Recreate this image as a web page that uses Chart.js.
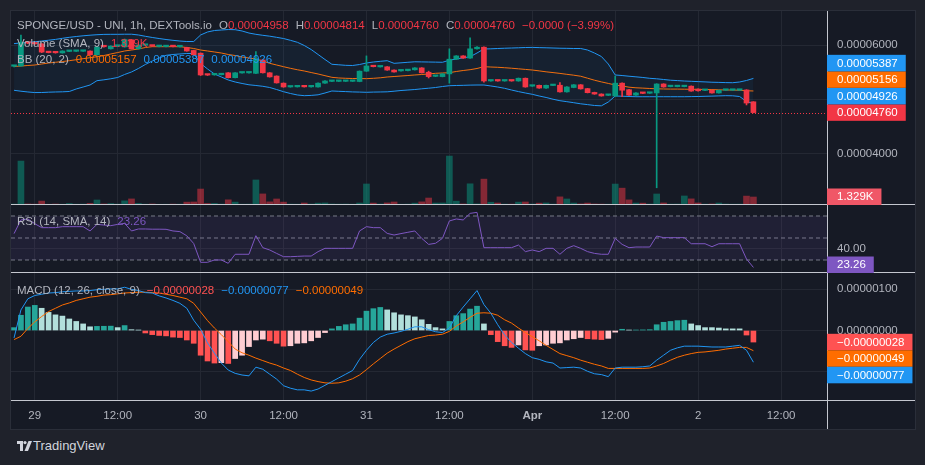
<!DOCTYPE html>
<html>
<head>
<meta charset="utf-8">
<title>SPONGE/USD 1h</title>
<script src="https://cdn.jsdelivr.net/npm/chart.js@4.4.1/dist/chart.umd.min.js"></script>
<style>
  body { margin: 0; width: 925px; height: 465px; background: #1f222b; overflow: hidden; font-family: "Liberation Sans", Arial, sans-serif; }
  #frame { position: absolute; left: 10px; top: 10px; width: 906px; height: 420px; box-sizing: border-box; border: 1px solid #2a2e39; background: #161a25; }
  canvas { position: absolute; left: 11px; }
  .lg { position: absolute; left: 17px; font-size: 11.5px; line-height: 14px; color: #b2b5be; white-space: nowrap; z-index: 2; }
  .lg span { margin-left: 7px; }
  .lg em { font-style: normal; }
  .r { color: #f23645; }
  .o { color: #ff6d00; }
  .b { color: #2196f3; }
  .p { color: #7e57c2; }
  .m { color: #ff5252; }
  #tv { position: absolute; left: 33px; top: 438px; font-size: 13px; line-height: 16px; color: #d1d4dc; }
</style>
</head>
<body>
<div id="frame"></div>
<canvas id="pricePane" width="904" height="194" style="top:11px"></canvas>
<canvas id="rsiPane" width="904" height="68" style="top:205px"></canvas>
<canvas id="macdPane" width="904" height="156" style="top:273px"></canvas>

<div class="lg" style="top:18px">SPONGE/USD - UNI, 1h, DEXTools.io<span>O<em class="r">0.00004958</em></span><span>H<em class="r">0.00004814</em></span><span>L<em class="r">0.00004760</em></span><span>C<em class="r">0.00004760</em></span><span class="r">&minus;0.0000 (&minus;3.99%)</span></div>
<div class="lg" style="top:36px">Volume (SMA, 9)<span class="r">1.329K</span></div>
<div class="lg" style="top:52px">BB (20, 2)<span class="o">0.00005157</span><span class="b">0.00005387</span><span class="b">0.00004926</span></div>
<div class="lg" style="top:214px">RSI (14, SMA, 14)<span class="p">23.26</span></div>
<div class="lg" style="top:283px">MACD (12, 26, close, 9)<span class="m">&minus;0.00000028</span><span class="b">&minus;0.00000077</span><span class="o">&minus;0.00000049</span></div>

<svg style="position:absolute;left:17px;top:441px" width="15" height="10" viewBox="0 0 15 10">
  <path fill="#d1d4dc" d="M0 0h6v10H3V3H0z"/><circle cx="8" cy="1.6" r="1.6" fill="#d1d4dc"/><path fill="#d1d4dc" d="M11.5 0H15l-4 10H7.5z"/>
</svg>
<div id="tv">TradingView</div>

<script>
// all prices and indicator values are in units of 1e-8 USD
// hours are counted from 1 Apr 00:00, one candle per hour
let firstHour = -75;

let opens = [5610,5615,6050,6030,6020,5870,5862,5855,5882,5884,
  5885,5889,5820,5972,5930,5978,5965,6095,5930,5995,
  5985,5972,5970,5976,5968,5955,5900,5850,5455,5452,
  5455,5490,5400,5487,5488,5480,5725,5490,5430,5300,
  5230,5232,5238,5232,5230,5300,5332,5332,5333,5333,
  5330,5520,5612,5598,5600,5540,5525,5530,5545,5580,
  5500,5425,5420,5470,5740,5800,5760,5930,5960,5340,
  5345,5340,5345,5340,5390,5245,5260,5210,5256,5262,
  5140,5220,5270,5200,5130,5100,5076,5065,5300,5180,
  5080,5118,5115,5120,5285,5236,5236,5236,5245,5190,
  5167,5170,5120,5170,5170,5170,5175,4958];
let highs = [5625,6180,6060,6040,6030,5875,5865,5895,5890,5890,
  5890,5895,5970,5978,5985,5985,6110,6100,6005,6000,
  5990,5978,5980,5980,5978,5960,5905,5855,5460,5465,
  5465,5495,5495,5495,5495,5880,5730,5495,5435,5305,
  5240,5240,5242,5240,5305,5345,5340,5340,5340,5340,
  5525,5800,5618,5608,5605,5545,5535,5550,5585,5585,
  5520,5435,5475,5930,5805,5805,6130,5970,5965,5350,
  5350,5350,5350,5395,5395,5255,5265,5265,5265,5310,
  5235,5275,5275,5205,5135,5105,5085,5430,5305,5185,
  5125,5122,5125,5290,5290,5245,5245,5245,5250,5195,
  5175,5175,5175,5180,5180,5180,5180,4960];
let lows = [5600,5610,6025,6015,5860,5855,5850,5850,5878,5880,
  5880,5815,5815,5960,5925,5970,5960,5925,5925,5985,
  5975,5965,5965,5965,5962,5885,5815,5440,5440,5445,
  5450,5395,5395,5482,5482,5475,5485,5410,5300,5225,
  5225,5228,5228,5228,5225,5295,5328,5328,5330,5330,
  5325,5515,5598,5595,5535,5500,5520,5525,5540,5485,
  5395,5420,5415,5300,5735,5755,5755,5925,5320,5335,
  5335,5335,5335,5335,5225,5240,5205,5205,5252,5135,
  5135,5215,5190,5120,5095,5060,5072,5060,5050,5075,
  5075,5108,5110,3380,5225,5232,5232,5232,5150,5155,
  5162,5115,5115,5167,5167,5167,4900,4755];
let closes = [5620,6050,6035,6020,5870,5860,5857,5890,5886,5888,
  5889,5820,5962,5968,5980,5982,6100,5930,6000,5998,
  5980,5975,5976,5970,5974,5890,5820,5450,5448,5460,
  5462,5400,5490,5492,5493,5740,5490,5415,5305,5230,
  5236,5237,5232,5237,5300,5340,5337,5337,5338,5338,
  5520,5615,5602,5604,5540,5505,5530,5545,5580,5490,
  5420,5432,5470,5740,5800,5760,5930,5960,5340,5346,
  5340,5346,5340,5390,5230,5250,5210,5260,5262,5140,
  5230,5270,5195,5125,5100,5065,5082,5300,5170,5080,
  5120,5112,5121,5285,5230,5242,5242,5242,5155,5160,
  5172,5120,5170,5176,5176,5176,4935,4760];
let volumes = [150,7300,170,140,650,120,160,130,250,140,
  150,260,830,170,240,150,690,1010,260,140,
  170,120,130,150,140,480,500,2650,250,260,
  150,860,480,140,150,4160,1840,520,1000,480,
  150,140,330,160,310,340,170,150,160,140,
  330,3490,320,160,350,500,130,150,310,520,
  1160,330,340,8130,640,170,3520,180,4300,460,
  330,150,140,480,500,160,310,340,150,1350,
  1000,330,180,320,170,150,140,3480,2800,850,
  330,310,160,1830,340,150,160,1500,1020,340,
  150,170,330,160,140,150,1480,1329];

let bbUpper = [6026,6037,6048,6059,6073,6088,6103,6123,6141,6156,
  6169,6180,6189,6195,6196,6196,6198,6198,6184,6160,
  6138,6119,6101,6086,6073,6064,6064,6184,6239,6266,
  6275,6284,6281,6257,6220,6196,6178,6162,6141,6119,
  6086,6050,5991,5917,5826,5734,5646,5637,5627,5624,
  5642,5670,5688,5701,5712,5664,5673,5683,5692,5690,
  5688,5686,5683,5721,5743,5765,5785,5853,5927,5930,
  5936,5941,5945,5949,5954,5956,5952,5949,5945,5941,
  5939,5936,5936,5908,5853,5789,5651,5450,5440,5427,
  5416,5404,5389,5380,5367,5354,5347,5339,5334,5328,
  5323,5317,5314,5310,5308,5321,5349,5387];
let bbBasis = [5605,5614,5624,5633,5651,5670,5683,5697,5712,5730,
  5749,5767,5785,5807,5835,5862,5890,5908,5927,5954,
  5969,5969,5969,5969,5969,5954,5936,5908,5890,5872,
  5853,5826,5807,5780,5761,5743,5706,5664,5633,5602,
  5572,5546,5523,5495,5468,5437,5407,5395,5389,5385,
  5385,5382,5389,5398,5413,5422,5431,5440,5450,5459,
  5468,5481,5486,5492,5514,5532,5547,5569,5602,5596,
  5591,5583,5574,5563,5552,5541,5525,5508,5494,5479,
  5462,5446,5427,5391,5354,5323,5295,5266,5248,5226,
  5215,5209,5202,5196,5193,5191,5191,5189,5187,5187,
  5183,5182,5178,5174,5174,5169,5160,5156.4];
let bbLower = [5169,5152,5138,5127,5128,5134,5138,5141,5147,5193,
  5229,5266,5345,5361,5380,5404,5459,5505,5569,5642,
  5706,5761,5811,5826,5835,5844,5844,5661,5560,5468,
  5413,5358,5321,5294,5270,5257,5242,5220,5183,5143,
  5110,5083,5070,5075,5086,5119,5156,5150,5145,5139,
  5136,5132,5136,5138,5141,5152,5165,5174,5183,5196,
  5207,5220,5238,5253,5257,5260,5264,5266,5266,5248,
  5229,5205,5174,5145,5119,5095,5064,5037,5005,4978,
  4960,4941,4921,4906,4890,4884,4954,5064,5060,5055,
  5051,5051,5051,5051,5051,5051,5051,5051,5053,5055,
  5059,5062,5066,5070,5068,5055,4963,4926];

let rsi = [54,66.4,67.3,63,59.4,59.4,59.4,60.3,60.3,60.3,
  60.3,56.4,62.4,61.8,61.2,62.4,63.3,56.4,58.2,58.2,
  58,58,57.9,56.4,55.8,52,45,27.9,27.9,30,
  30,27,35.2,35.2,35.2,52.1,41.2,39.1,36,33,
  33,33.3,33.6,33.6,37.6,40.6,40.6,40.6,40.6,40.6,
  56.4,60.3,59.4,59.4,54.2,52.7,54,55.2,56.4,49.7,
  44.2,45.2,49.7,65.5,67.3,66.4,72.4,73.3,41.2,41.2,
  41.2,41.2,41.2,43.6,37.6,39.1,37.6,40.6,40.6,35.2,
  40.6,43,40.6,37.6,36,35.2,35.2,49.7,44.2,41.2,
  41.8,41.8,41.8,51.8,50.3,50.3,50.3,50.3,44.8,44.8,
  44.8,42.1,44.8,44.8,44.8,44.8,30.9,23.26];
let rsiLevels = [70, 50, 30];

let macdLine = [-18,50,77,85,88,91,92,94,95,96,
  96,97,99,100,101,101,105,100,97,92,
  91,84,79,73,66,54,25,3,-30,-55,
  -79,-96,-104,-108,-110,-89,-94,-106,-118,-134,
  -140,-144,-144,-147,-142,-133,-124,-115,-106,-97,
  -70,-48,-29,-16,-9,-6,-2,3,9,9,
  2,-3,-5,6,36,57,77,97,63,42,
  14,-11,-29,-43,-56,-66,-70,-76,-79,-91,
  -90,-89,-91,-99,-105,-107,-112,-91,-89,-89,
  -89,-88,-86,-72,-60,-48,-42,-38,-38,-38,
  -39,-40,-40,-40,-38,-36,-48,-77];
let signalLine = [-22,-14,5,21,34,46,54,62,67,73,
  77,81,83,86,87,89,91,92,93,93,
  92,91,88,85,81,77,66,45,24,6,
  -10,-27,-45,-54,-60,-67,-73,-79,-84,-91,
  -97,-106,-114,-120,-124,-127,-128,-127,-123,-117,
  -108,-95,-81,-68,-55,-45,-36,-27,-20,-16,
  -12,-11,-9,-2,11,21,32,42,43,42,
  37,26,18,6,-5,-15,-25,-36,-46,-56,
  -61,-66,-72,-77,-82,-86,-92,-92,-92,-92,
  -92,-92,-91,-86,-80,-72,-65,-60,-56,-53,
  -52,-50,-48,-45,-43,-41,-41,-49];
let histogram = [7,37,57,61,54,44,38,35,28,22,
  16,9,10,10.3,10.6,7,12,2,1,-6,
  -10,-12,-13,-16,-17,-23,-31,-60,-74,-79,
  -78,-80,-68,-60,-39,-23,-21,-25,-31,-38,
  -37,-31,-30,-25,-17,-5,4,10,14,16,
  30,47,53,56,50,43,38,36,33,26,
  15,7,4,22,36,41,52,59,16,-10,
  -27,-37,-41,-35,-47,-48,-37,-35,-31,-30,
  -23,-20,-17,-20,-21,-22,-19,-4,3,1,
  1.2,1.5,2,14,20,22,24,25,16,12,
  7,7,6,4,4,4,-11,-28];

let tickHours = [-72, -60, -48, -36, -24, -12, 0, 12, 24, 36];
let tickLabels = ['29', '12:00', '30', '12:00', '31', '12:00', 'Apr', '12:00', '2', '12:00'];
let priceTicks = [4000, 5000, 6000];
let rsiTicks = [40];
let macdTicks = [-100, 0, 100];

const FONT = '"Liberation Sans", Arial, sans-serif';
const TXT = '#b2b5be';
const GRID = '#242833';
const SEP = '#c4c7cf';
const GREEN = '#089981', RED = '#f23645', BLUE = '#2196f3', ORANGE = '#ff6d00', PURPLE = '#7e57c2';
const X_MIN = -75.44, X_MAX = 42.65;

Chart.defaults.font.family = FONT;
Chart.defaults.font.size = 11.5;
Chart.defaults.color = TXT;

let hours = opens.map((_, i) => firstHour + i);
let last = closes.length - 1;
let up = closes.map((c, i) => c >= opens[i]);

function fmt(v) {
  let s = Math.abs(v / 1e8).toFixed(8);
  return (v < 0 ? '\u2212' : '') + s;
}

function pts(arr) {
  return hours.map((x, i) => ({ x: x, y: arr[i] }));
}

function xAxis(showLabels) {
  return {
    type: 'linear', min: X_MIN, max: X_MAX, offset: false,
    afterBuildTicks: s => { s.ticks = tickHours.map(v => ({ value: v })); },
    afterFit: s => { s.height = showLabels ? 28 : 0; s.paddingLeft = 0; s.paddingRight = 0; },
    grid: { color: GRID, drawTicks: false, offset: false },
    border: { display: false },
    ticks: {
      display: showLabels, padding: 8, color: TXT, maxRotation: 0, autoSkip: false,
      font: c => ({ family: FONT, size: 11.5, weight: c.tick && c.tick.value === 0 ? 'bold' : 'normal' }),
      callback: (v, i) => tickLabels[i]
    }
  };
}

function yAxis(min, max, tickValues, format) {
  return {
    position: 'right', min: min, max: max,
    // fixed axis width; labels sit inside the pane so no extra vertical room is needed
    afterFit: s => { s.width = 88; s.paddingTop = 0; s.paddingBottom = 0; },
    afterBuildTicks: s => { s.ticks = tickValues.map(v => ({ value: v })); },
    grid: { color: GRID, drawTicks: false },
    border: { display: false },
    ticks: { color: TXT, padding: 10, font: { family: FONT, size: 11.5 }, callback: format }
  };
}

function baseOptions(scales) {
  return {
    responsive: false, animation: false, events: [], devicePixelRatio: 1,
    layout: { padding: 0, autoPadding: false },
    plugins: { legend: { display: false }, tooltip: { enabled: false } },
    scales: scales
  };
}

// pane separators and the price-axis border
const paneLines = {
  id: 'paneLines',
  afterDraw(chart) {
    const { ctx, chartArea: a } = chart;
    const y = Math.round(a.bottom) - 0.5, x = Math.round(a.right) + 0.5;
    ctx.save();
    ctx.strokeStyle = SEP;
    ctx.lineWidth = 1;
    ctx.beginPath();
    ctx.moveTo(0, y); ctx.lineTo(chart.width, y);
    ctx.moveTo(x, 0); ctx.lineTo(x, chart.height);
    ctx.stroke();
    ctx.restore();
  }
};

// coloured value labels on the right axis, pushed apart so they don't overlap
function axisLabels(groups) {
  return {
    id: 'axisLabels',
    afterDraw(chart) {
      const { ctx, chartArea: a } = chart;
      const H = 16.5;
      ctx.save();
      ctx.font = '11.5px ' + FONT;
      ctx.textBaseline = 'middle';
      groups.forEach(g => {
        const scale = chart.scales[g.axis];
        const items = g.items.map(it => Object.assign({ y: scale.getPixelForValue(it.value) }, it));
        items.sort((p, q) => g.dir === 'up' ? q.y - p.y : p.y - q.y);
        let prev = null;
        items.forEach(it => {
          let y = it.y;
          if (prev !== null) y = g.dir === 'up' ? Math.min(y, prev - H) : Math.max(y, prev + H);
          y = Math.min(Math.max(y, a.top + H / 2), a.bottom - H / 2);
          prev = y;
          const w = ctx.measureText(it.text).width + 18;
          ctx.fillStyle = it.color;
          ctx.fillRect(a.right, y - H / 2, w, H);
          ctx.fillStyle = '#ffffff';
          ctx.fillText(it.text, a.right + 10, y + 0.5);
        });
      });
      ctx.restore();
    }
  };
}

const lastPriceLine = {
  id: 'lastPriceLine',
  beforeDatasetsDraw(chart) {
    const { ctx, chartArea: a } = chart;
    const y = Math.round(chart.scales.y.getPixelForValue(closes[last])) + 0.5;
    ctx.save();
    ctx.strokeStyle = RED;
    ctx.lineWidth = 1;
    ctx.setLineDash([1, 2]);
    ctx.beginPath();
    ctx.moveTo(a.left, y); ctx.lineTo(a.right, y);
    ctx.stroke();
    ctx.restore();
  }
};

// ---------- price pane ----------
new Chart(document.getElementById('pricePane'), {
  type: 'bar',
  data: {
    datasets: [
      {
        label: 'body', data: hours.map((x, i) => ({ x: x, y: [opens[i], closes[i]] })),
        backgroundColor: up.map(u => u ? GREEN : RED), barThickness: 5, minBarLength: 1.5,
        grouped: false, order: 1, yAxisID: 'y'
      },
      {
        label: 'wick', data: hours.map((x, i) => ({ x: x, y: [lows[i], highs[i]] })),
        backgroundColor: up.map(u => u ? GREEN : RED), barThickness: 1,
        grouped: false, order: 2, yAxisID: 'y'
      },
      {
        type: 'line', label: 'BB upper', data: pts(bbUpper), borderColor: BLUE, borderWidth: 1,
        pointRadius: 0, tension: 0, fill: '+2', backgroundColor: 'rgba(33,150,243,0.06)', order: 3, yAxisID: 'y'
      },
      {
        type: 'line', label: 'BB basis', data: pts(bbBasis), borderColor: ORANGE, borderWidth: 1,
        pointRadius: 0, tension: 0, fill: false, order: 3, yAxisID: 'y'
      },
      {
        type: 'line', label: 'BB lower', data: pts(bbLower), borderColor: BLUE, borderWidth: 1,
        pointRadius: 0, tension: 0, fill: false, order: 3, yAxisID: 'y'
      },
      {
        label: 'volume', data: pts(volumes),
        backgroundColor: up.map(u => u ? 'rgba(8,153,129,0.5)' : 'rgba(242,54,69,0.5)'),
        barThickness: 6, grouped: false, order: 10, yAxisID: 'yv'
      }
    ]
  },
  options: baseOptions({
    x: xAxis(false),
    y: yAxis(3064, 6624, priceTicks, v => fmt(v)),
    yv: { display: false, min: 0, max: 32228 }
  }),
  plugins: [lastPriceLine, paneLines, axisLabels([
    { axis: 'y', dir: 'up', items: [
      { value: bbUpper[last], color: BLUE, text: fmt(bbUpper[last]) },
      { value: bbBasis[last], color: ORANGE, text: fmt(bbBasis[last]) },
      { value: bbLower[last], color: BLUE, text: fmt(bbLower[last]) },
      { value: closes[last], color: RED, text: fmt(closes[last]) }
    ] },
    { axis: 'yv', dir: 'up', items: [
      { value: volumes[last], color: '#f05767', text: (volumes[last] / 1000).toFixed(3) + 'K' }
    ] }
  ])]
});

// ---------- RSI pane ----------
function levelLine(v, fillTarget) {
  return {
    type: 'line', data: [{ x: X_MIN, y: v }, { x: X_MAX, y: v }],
    borderColor: '#787b86', borderWidth: 1, borderDash: [4, 3], pointRadius: 0,
    fill: fillTarget, backgroundColor: 'rgba(126,87,194,0.1)', order: 5
  };
}

new Chart(document.getElementById('rsiPane'), {
  type: 'line',
  data: {
    datasets: [
      levelLine(rsiLevels[0], '+2'),
      levelLine(rsiLevels[1], false),
      levelLine(rsiLevels[2], false),
      { data: pts(rsi), borderColor: PURPLE, borderWidth: 1, pointRadius: 0, tension: 0, fill: false, order: 1 }
    ]
  },
  options: baseOptions({
    x: xAxis(false),
    y: yAxis(18.18, 80, rsiTicks, v => v.toFixed(2))
  }),
  plugins: [paneLines, axisLabels([
    { axis: 'y', dir: 'down', items: [{ value: rsi[last], color: PURPLE, text: rsi[last].toFixed(2) }] }
  ])]
});

// ---------- MACD pane ----------
let histColors = histogram.map((h, i) => {
  const prev = i > 0 ? histogram[i - 1] : -Infinity;
  if (h >= 0) return h > prev ? '#26a69a' : '#b2dfdb';
  return h < prev ? '#ff5252' : '#ffcdd2';
});

new Chart(document.getElementById('macdPane'), {
  type: 'bar',
  data: {
    datasets: [
      { label: 'hist', data: pts(histogram), backgroundColor: histColors, barThickness: 5, grouped: false, order: 3 },
      { type: 'line', label: 'MACD', data: pts(macdLine), borderColor: BLUE, borderWidth: 1, pointRadius: 0, tension: 0, order: 1 },
      { type: 'line', label: 'signal', data: pts(signalLine), borderColor: ORANGE, borderWidth: 1, pointRadius: 0, tension: 0, order: 2 }
    ]
  },
  options: baseOptions({
    x: xAxis(true),
    y: yAxis(-171.1, 139.6, macdTicks, v => fmt(v))
  }),
  plugins: [paneLines, axisLabels([
    { axis: 'y', dir: 'down', items: [
      { value: histogram[last], color: '#ff5252', text: fmt(histogram[last]) },
      { value: signalLine[last], color: ORANGE, text: fmt(signalLine[last]) },
      { value: macdLine[last], color: BLUE, text: fmt(macdLine[last]) }
    ] }
  ])]
});
</script>
</body>
</html>
